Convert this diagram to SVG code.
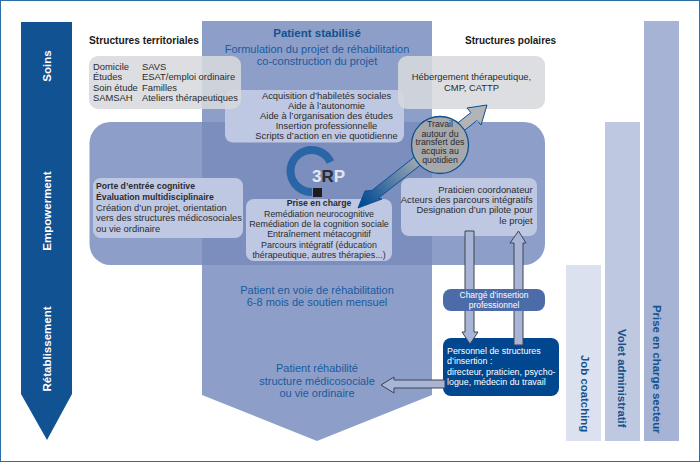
<svg xmlns="http://www.w3.org/2000/svg" width="700" height="462" viewBox="0 0 700 462">
<style>
text{font-family:"Liberation Sans",Arial,sans-serif;font-size:9.4px;fill:#2b2b2e}
.b{font-weight:bold;font-size:8.7px}
.c{text-anchor:middle}
.e{text-anchor:end}
.blue{fill:#1a5a9e;font-size:11px}
.head{font-weight:bold;fill:#1a1a1a}
.side{font-weight:bold;font-size:11.5px;fill:#fff;text-anchor:middle}
.bar{font-weight:bold;font-size:11.400px;fill:#12528f}
.s{font-size:8.900px}
.t{font-size:8.800px}
.w{fill:#fff;font-size:8.900px}
.arr{fill:#a9b5d7;stroke:#3f4350;stroke-width:1}
.gray{fill:#d8d9dc;fill-opacity:.87}
.light{fill:#bfc8e2}
</style>
<defs>
<linearGradient id="dg" gradientUnits="userSpaceOnUse" x1="362" y1="205" x2="425" y2="155">
<stop offset="0" stop-color="#004a94"/><stop offset="1" stop-color="#b3b4b7"/>
</linearGradient>
</defs>
<rect x="0.5" y="0.5" width="699" height="461" fill="#fff" stroke="#2e6da4" stroke-width="1"/>
<g id="axis">
<polygon points="21,22 72,22 72,394 47,440 21,394" fill="#115292"/>
<text class="side" transform="translate(51,66) rotate(-90)">Soins</text>
<text class="side" transform="translate(51,211) rotate(-90)">Empowerment</text>
<text class="side" transform="translate(51,349) rotate(-90)">Rétablissement</text>
</g>
<g id="patient-path">
<polygon points="202,21 432,21 432,395 317,441 202,395" fill="#8d9fc8"/>
<rect x="89.500" y="122" width="455.500" height="143" rx="21" fill="#8d9fc8"/>
<rect x="202" y="122" width="230" height="143" fill="#7b8ebd"/>
<text class="c" x="317" y="37" style="font-weight:bold;font-size:11.500px;fill:#12528f">Patient stabilisé</text>
<text class="blue c" x="317" y="53">Formulation du projet de réhabilitation</text>
<text class="blue c" x="317" y="65">co-construction du projet</text>
<text class="blue c" x="317" y="294">Patient en voie de réhabilitation</text>
<text class="blue c" x="317" y="306">6-8 mois de soutien mensuel</text>
<text class="blue c" x="317" y="372">Patient réhabilité</text>
<text class="blue c" x="317" y="384.500">structure médicosociale</text>
<text class="blue c" x="317" y="397">ou vie ordinaire</text>
</g>
<g id="skills">
<rect class="light" x="225" y="90" width="179" height="52.500" rx="8"/>
<text class="c" x="326.500" y="98.700">Acquisition d’habiletés sociales</text>
<text class="c" x="326.500" y="108.700">Aide à l’autonomie</text>
<text class="c" x="326.500" y="118.700">Aide à l’organisation des études</text>
<text class="c" x="326.500" y="128.700">Insertion professionnelle</text>
<text class="c" x="326.500" y="139">Scripts d’action en vie quotidienne</text>
</g>
<g id="structures-territoriales">
<text class="head" x="89" y="44" style="font-size:10.200px">Structures territoriales</text>
<rect class="gray" x="89" y="56" width="152" height="53" rx="9"/>
<text x="93" y="69.500">Domicile</text><text x="142" y="69.500">SAVS</text>
<text x="93" y="80">Études</text><text x="142" y="80">ESAT/emploi ordinaire</text>
<text x="93" y="90.500">Soin étude</text><text x="142" y="90.500">Familles</text>
<text x="93" y="101">SAMSAH</text><text x="142" y="101">Ateliers thérapeutiques</text>
</g>
<g id="structures-polaires">
<text class="head" x="465" y="44" style="font-size:10px">Structures polaires</text>
<rect class="gray" x="398" y="56" width="147" height="53" rx="9"/>
<text class="c" x="471.500" y="80">Hébergement thérapeutique,</text>
<text class="c" x="471.500" y="91">CMP, CATTP</text>
</g>
<g id="logo-3rp">
<path d="M330.500 162A21 21 0 1 0 312 192" fill="none" stroke="#2a65a5" stroke-width="8"/>
<rect x="313" y="188" width="9" height="9" fill="#1d1d1f"/>
<text x="312" y="182" style="font-weight:bold;font-size:17px"><tspan style="fill:#e6e9f3">3</tspan><tspan style="fill:#2b2b33">R</tspan><tspan style="fill:#dfe4f1">P</tspan></text>
</g>
<g id="porte-entree">
<rect class="light" x="93" y="178" width="150" height="60" rx="8"/>
<text class="b" x="96" y="189">Porte d’entrée cognitive</text>
<text class="b" x="96" y="200">Évaluation multidisciplinaire</text>
<text x="96" y="210.500">Création d’un projet, orientation</text>
<text x="96" y="221">vers des structures médicosociales</text>
<text x="96" y="232">ou vie ordinaire</text>
</g>
<g id="prise-en-charge">
<rect class="light" x="246" y="199" width="146" height="62" rx="8"/>
<text class="b c" x="319" y="206">Prise en charge</text>
<text class="c s" x="319" y="216.700">Remédiation neurocognitive</text>
<text class="c s" x="319" y="227">Remédiation de la cognition sociale</text>
<text class="c s" x="319" y="237.300">Entraînement métacognitif</text>
<text class="c s" x="319" y="247.700">Parcours intégratif (éducation</text>
<text class="c s" x="319" y="257.700">thérapeutique, autres thérapies...)</text>
</g>
<g id="praticien">
<rect class="light" x="401" y="178" width="136" height="58" rx="8"/>
<text class="e" x="532.700" y="192.700">Praticien coordonateur</text>
<text class="e" x="532.700" y="202.700">Acteurs des parcours intégratifs</text>
<text class="e" x="532.700" y="213.300">Designation d’un pilote pour</text>
<text class="e" x="532.700" y="224">le projet</text>
</g>
<g id="personnel">
<rect x="443" y="338" width="116" height="58" rx="8" fill="#00478f"/>
<text class="w" x="447" y="353.700">Personnel de structures</text>
<text class="w" x="447" y="364">d’insertion :</text>
<text class="w" x="447" y="375">directeur, praticien, psycho-</text>
<text class="w" x="447" y="385">logue, médecin du travail</text>
</g>
<g id="connectors">
<polygon class="arr" points="465,231 474,231 474,332 478,332 470,344 462,332 465,332"/>
<polygon class="arr" points="514,345 523,345 523,243 526,243 518.500,231 510,243 514,243"/>
<polygon class="arr" points="445,380 394,380 394,377 381,385 394,393 394,388 445,388"/>
<polygon points="358,208 365,191 372,190.400 470.900,112.600 467,108 487,105 481,125 477.100,120.400 378.300,198.200 382,199" fill="url(#dg)" stroke="#0b4f94" stroke-width="1"/>
</g>
<g id="transfert">
<circle cx="440" cy="145" r="28.500" fill="#a6a8ab" stroke="#0b5193" stroke-width="1.300"/>
<text class="c t" x="440" y="127">Travail</text>
<text class="c t" x="440" y="136.500">autour du</text>
<text class="c t" x="440" y="145.300">transfert des</text>
<text class="c t" x="440" y="154.300">acquis au</text>
<text class="c t" x="440" y="163">quotidien</text>
</g>
<g id="charge-insertion">
<rect x="443" y="289" width="102" height="22" rx="8" fill="#4b6ca8"/>
<text class="c w" x="494" y="297.700" style="font-size:8.500px">Chargé d’insertion</text>
<text class="c w" x="494" y="308.300" style="font-size:8.500px">professionnel</text>
</g>
<g id="job-coaching">
<rect x="566" y="265" width="35" height="176" fill="#dce1ef"/>
<text class="bar" transform="translate(581,355) rotate(90)">Job coatching</text>
</g>
<g id="volet-administratif">
<rect x="605" y="122" width="35" height="319" fill="#bfc8e1"/>
<text class="bar" transform="translate(618,329) rotate(90)">Volet administratif</text>
</g>
<g id="prise-en-charge-secteur">
<rect x="644" y="21" width="35" height="420" fill="#a7b3d5"/>
<text class="bar" transform="translate(653,305) rotate(90)">Prise en charge secteur</text>
</g>
</svg>
